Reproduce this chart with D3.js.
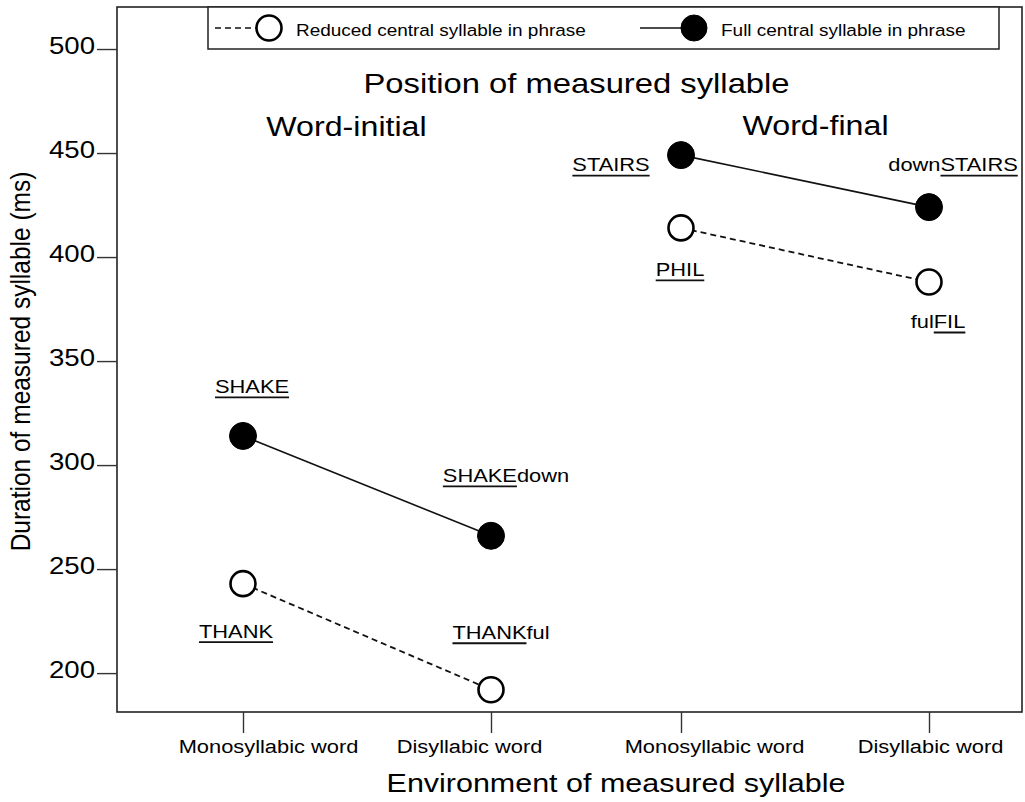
<!DOCTYPE html>
<html>
<head>
<meta charset="utf-8">
<script src="https://cdn.jsdelivr.net/npm/d3@7"></script>
<style>
  body { margin: 0; background: #fff; }
  text { font-family: "Liberation Sans", Arial, Helvetica, sans-serif; fill: #000; }
</style>
</head>
<body>
<svg id="chart" width="1025" height="802"></svg>
<script>
// data
var groups = ["Word-initial", "Word-final"];
var environments = ["Monosyllabic word", "Disyllabic word"];
var yTicks = [200, 250, 300, 350, 400, 450, 500];
var seriesNames = ["Reduced central syllable in phrase", "Full central syllable in phrase"];
var reducedValues = [243, 192, 414, 388];
var fullValues = [314, 266, 449, 424];
// words: [before, underlined, after]
var reducedWords = [["", "THANK", ""], ["", "THANK", "ful"], ["", "PHIL", ""], ["ful", "FIL", ""]];
var fullWords = [["", "SHAKE", ""], ["", "SHAKE", "down"], ["", "STAIRS", ""], ["down", "STAIRS", ""]];

var svg = d3.select("#chart");
var plotL = 117, plotR = 1022, plotT = 7, plotB = 712;
var sx = 1.15; // the scan is a bit wide, stretch text to match

var y = d3.scaleLinear().domain([181.3, 520.2]).range([plotB, plotT]);
var groupX = d3.scalePoint().domain(groups).range([367, 805]);
var envX = d3.scalePoint().domain(environments).range([-124, 124]);

function xOf(i) {
  return groupX(groups[Math.floor(i / 2)]) + envX(environments[i % 2]);
}

function stretchText(parent, x, yy, size, anchor, str) {
  var g = parent.append("g")
    .attr("transform", "translate(" + x + "," + yy + ") scale(" + sx + ",1)");
  g.append("text")
    .attr("text-anchor", anchor)
    .style("font-size", size + "px")
    .text(str);
  return g;
}

// frame
svg.append("rect")
  .attr("x", plotL).attr("y", plotT)
  .attr("width", plotR - plotL).attr("height", plotB - plotT)
  .attr("fill", "none").attr("stroke", "#222").attr("stroke-width", 1.6);

// y axis
var yAxis = svg.append("g")
  .attr("transform", "translate(" + plotL + ",0)")
  .attr("font-size", 24).attr("font-family", null)
  .call(d3.axisLeft(y).tickValues(yTicks).tickSize(20).tickPadding(2).tickSizeOuter(0));
yAxis.select(".domain").remove();
yAxis.selectAll(".tick line").attr("stroke", "#333").attr("stroke-width", 1.4);
yAxis.selectAll(".tick text")
  .attr("x", -22 / sx)
  .attr("dy", "0.17em")
  .attr("transform", "scale(" + sx + ",1)")
  .style("font-size", "24px");

// x axis (labels in the scan sit a little off their ticks)
var keys = [0, 1, 2, 3];
var labelShift = [25, -22, 33, 1];
var xTick = d3.scaleOrdinal().domain(keys).range(keys.map(xOf));
var xAxis = svg.append("g")
  .attr("transform", "translate(0," + plotB + ")")
  .attr("font-size", 19).attr("font-family", null)
  .call(d3.axisBottom(xTick).tickSize(21).tickPadding(7).tickSizeOuter(0)
    .tickFormat(function(k) { return environments[k % 2]; }));
xAxis.select(".domain").remove();
xAxis.selectAll(".tick line").attr("stroke", "#333").attr("stroke-width", 1.4);
xAxis.selectAll(".tick text")
  .attr("transform", function(k) { return "translate(" + labelShift[k] + ",0) scale(" + sx + ",1)"; })
  .style("font-size", "19px");

// axis titles
stretchText(svg, 616, 792, 26.5, "middle", "Environment of measured syllable");
svg.append("g")
  .attr("transform", "translate(30,361.5) scale(" + sx + ",1) rotate(-90)")
  .append("text")
  .attr("text-anchor", "middle")
  .style("font-size", "24.5px")
  .text("Duration of measured syllable (ms)");

// titles inside the plot
stretchText(svg, 576.5, 93, 28.5, "middle", "Position of measured syllable");
stretchText(svg, groupX(groups[0]) - 20.5, 136, 28, "middle", groups[0]);
stretchText(svg, groupX(groups[1]) + 10.5, 135, 28, "middle", groups[1]);

// series
var series = [
  { values: reducedValues, words: reducedWords, dash: "6,4", fill: "#fff", r: 12.5,
    offsets: [[-7, 54], [10, -51], [-1, 48], [9, 46]] },
  { values: fullValues, words: fullWords, dash: null, fill: "#000", r: 13.5,
    offsets: [[9, -43], [15, -54], [-70, 16], [24, -36]] }
];

var lineGen = d3.line().x(function(d) { return d.x; }).y(function(d) { return d.y; });

series.forEach(function(s) {
  var pts = s.values.map(function(v, i) { return { x: xOf(i), y: y(v), i: i }; });
  groups.forEach(function(gname, gi) {
    svg.append("path")
      .attr("d", lineGen(pts.slice(gi * 2, gi * 2 + 2)))
      .attr("fill", "none")
      .attr("stroke", "#111")
      .attr("stroke-width", s.dash ? 1.8 : 1.6)
      .attr("stroke-dasharray", s.dash);
  });
  svg.selectAll(null).data(pts).enter().append("circle")
    .attr("cx", function(d) { return d.x; })
    .attr("cy", function(d) { return d.y; })
    .attr("r", s.r)
    .attr("fill", s.fill)
    .attr("stroke", "#000")
    .attr("stroke-width", s.dash ? 2.6 : 1);

  // word labels with the measured syllable underlined
  pts.forEach(function(p) {
    var w = s.words[p.i];
    var off = s.offsets[p.i];
    var g = stretchText(svg, p.x + off[0], p.y + off[1], 19, "middle", w.join(""));
    var t = g.select("text").node();
    var total = t.getComputedTextLength();
    var start = w[0].length ? t.getSubStringLength(0, w[0].length) : 0;
    var len = t.getSubStringLength(w[0].length, w[1].length);
    g.append("line")
      .attr("x1", -total / 2 + start).attr("x2", -total / 2 + start + len)
      .attr("y1", 4.5).attr("y2", 4.5)
      .attr("stroke", "#111").attr("stroke-width", 1.8);
  });
});

// legend
var legend = svg.append("g");
legend.append("rect")
  .attr("x", 208).attr("y", plotT)
  .attr("width", 791).attr("height", 42)
  .attr("fill", "#fff").attr("stroke", "#222").attr("stroke-width", 1.5);
var legendItems = [
  { x: 215, dash: "6,4", fill: "#fff", r: 12.5, name: seriesNames[0] },
  { x: 640, dash: null, fill: "#000", r: 13, name: seriesNames[1] }
];
legendItems.forEach(function(it) {
  legend.append("line")
    .attr("x1", it.x).attr("x2", it.x + 50)
    .attr("y1", 28).attr("y2", 28)
    .attr("stroke", "#111").attr("stroke-width", 1.6)
    .attr("stroke-dasharray", it.dash);
  legend.append("circle")
    .attr("cx", it.x + 54).attr("cy", 28).attr("r", it.r)
    .attr("fill", it.fill).attr("stroke", "#000")
    .attr("stroke-width", it.dash ? 2.6 : 1);
  stretchText(legend, it.x + 81, 35.5, 16.5, "start", it.name);
});
</script>
</body>
</html>
